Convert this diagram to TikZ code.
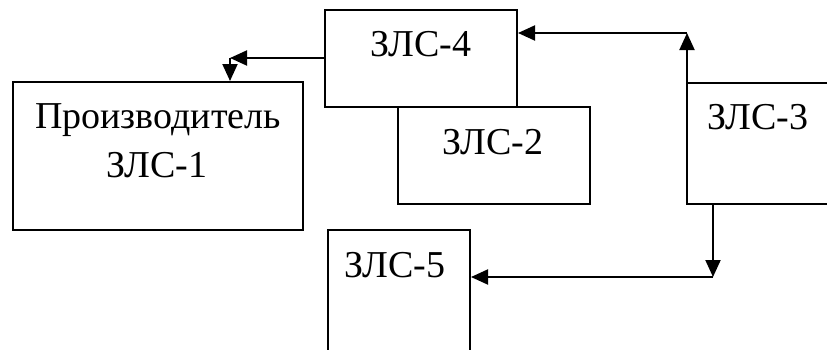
\documentclass[tikz,border=0pt]{standalone}
\usepackage{fontspec}
\setmainfont{Liberation Serif}
\usetikzlibrary{arrows.meta}
\begin{document}
\begin{tikzpicture}[x=1pt,y=-1pt,
  box/.style={draw, line width=2pt, minimum width=#1, inner sep=0pt},
  lbl/.style={inner sep=0pt, font=\fontsize{38}{44}\selectfont},
  conn/.style={line width=2pt, -{Triangle[length=17pt,width=15pt]}}]
\useasboundingbox (0,0) rectangle (827,349);
\clip (0,0) rectangle (827,349);
\node[box=290pt, minimum height=148pt] (b1) at (158,156) {};
\node[box=192pt, minimum height=97pt] (b4) at (421,58.5) {};
\node[box=192pt, minimum height=97pt] (b2) at (494,155.5) {};
\node[box=200pt, minimum height=121pt] (b3) at (787,143.5) {};
\node[box=142pt, minimum height=125pt] (b5) at (399,292.5) {};
\node[lbl] (t1a) at (158,120) {Производитель};
\node[lbl] (t1b) at (157,165) {ЗЛС-1};
\node[lbl] (t4) at (421,44) {ЗЛС-4};
\node[lbl] (t2) at (493,142) {ЗЛС-2};
\node[lbl] (t3) at (758,117) {ЗЛС-3};
\node[lbl] (t5) at (395,265) {ЗЛС-5};
\coordinate (c1) at (230,58);
\coordinate (c2) at (687,33);
\coordinate (c3) at (713,277);
\draw[conn] (b4.west |- c1) -- (c1);
\draw[conn] (c1) -- (c1 |- b1.north);
\draw[conn] (c2 |- b3.north) -- (c2);
\draw[conn] (c2) -- (b4.east |- c2);
\draw[conn] (c3 |- b3.south) -- (c3);
\draw[conn] (c3) -- (b5.east |- c3);
\end{tikzpicture}
\end{document}
